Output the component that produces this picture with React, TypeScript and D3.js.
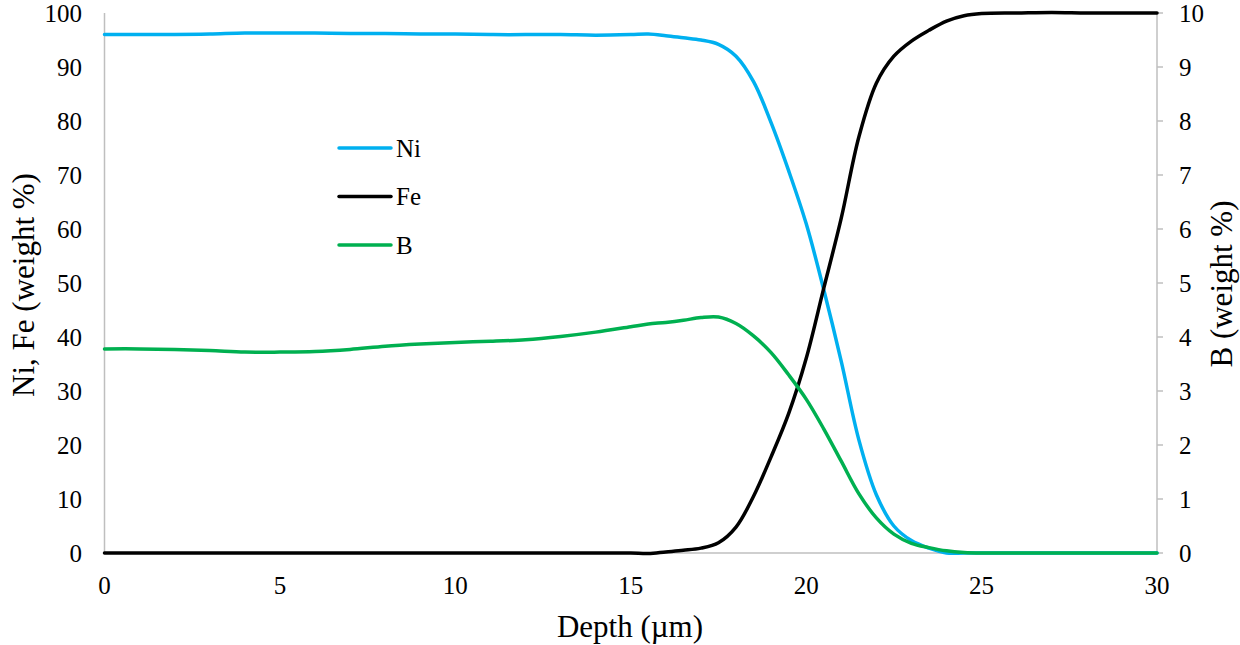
import React from "react";
import * as d3 from "d3";

const depth = [0, 1, 2, 3, 4, 5, 6, 7, 8, 9, 10, 11, 12, 13, 14, 15, 15.5, 16, 16.5, 17, 17.5, 18, 18.5, 19, 19.5, 20, 20.5, 21, 21.5, 22, 22.5, 23, 23.5, 24, 24.5, 25, 26, 27, 28, 29, 30];
const ni = [96.0, 96.0, 96.0, 96.1, 96.3, 96.3, 96.3, 96.2, 96.2, 96.1, 96.1, 96.0, 96.0, 96.0, 95.9, 96.0, 96.1, 95.8, 95.4, 95.0, 94.2, 92.0, 87.3, 79.7, 70.8, 61.0, 48.8, 35.5, 21.0, 10.8, 5.0, 2.3, 0.9, 0, 0, 0, 0, 0, 0, 0, 0];
const fe = [0, 0, 0, 0, 0, 0, 0, 0, 0, 0, 0, 0, 0, 0, 0, 0, -0.1, 0.2, 0.5, 0.9, 1.9, 4.8, 10.5, 17.8, 25.8, 36.0, 49.0, 62.0, 77.0, 87.0, 92.0, 94.8, 96.8, 98.5, 99.5, 99.9, 100, 100.1, 100, 100, 100];
const boron = [3.78, 3.78, 3.77, 3.75, 3.72, 3.72, 3.73, 3.77, 3.83, 3.87, 3.9, 3.92, 3.95, 4.01, 4.09, 4.19, 4.24, 4.27, 4.31, 4.36, 4.37, 4.25, 4.02, 3.71, 3.3, 2.85, 2.3, 1.7, 1.1, 0.65, 0.35, 0.18, 0.1, 0.04, 0.01, 0, 0, 0, 0, 0, 0];

const xTicks = [0, 5, 10, 15, 20, 25, 30];
const leftTicks = [0, 10, 20, 30, 40, 50, 60, 70, 80, 90, 100];
const rightTicks = [0, 1, 2, 3, 4, 5, 6, 7, 8, 9, 10];

const seriesNames = ["Ni", "Fe", "B"];
const seriesColors = ["#00B0F0", "#000000", "#00B050"];

export default function App() {
  const left = 104.5, right = 1157, top = 13, bottom = 553;
  const x = d3.scaleLinear().domain([0, 30]).range([left, right]);
  const yL = d3.scaleLinear().domain([0, 100]).range([bottom, top]);
  const yR = d3.scaleLinear().domain([0, 10]).range([bottom, top]);
  const font = "'Liberation Serif', 'Times New Roman', serif";
  const axisColor = "#BFBFBF";

  const curve = d3.curveCatmullRom.alpha(0.5);
  const lineL = d3.line<number>().x((_, i) => x(depth[i])).y((d) => yL(d)).curve(curve);
  const lineR = d3.line<number>().x((_, i) => x(depth[i])).y((d) => yR(d)).curve(curve);

  const paths = [lineL(ni), lineL(fe), lineR(boron)];

  return (
    <svg width={1240} height={645} style={{ position: "absolute", left: 0, top: 0, background: "#fff", fontFamily: font }}>
      {/* axes */}
      <line x1={left} x2={left} y1={top} y2={bottom} stroke={axisColor} strokeWidth={1.5} />
      <line x1={right} x2={right} y1={top} y2={bottom} stroke={axisColor} strokeWidth={1.5} />
      <line x1={left} x2={right} y1={bottom} y2={bottom} stroke={axisColor} strokeWidth={1.5} />
      {rightTicks.map((t) => (
        <line key={"rt" + t} x1={right} x2={right + 6} y1={yR(t)} y2={yR(t)} stroke={axisColor} strokeWidth={1.5} />
      ))}
      {leftTicks.map((t) => (
        <text key={"lt" + t} x={82} y={yL(t)} dy="0.35em" textAnchor="end" fontSize={25} fill="#000" style={{ fontFamily: font }}>{t}</text>
      ))}
      {rightTicks.map((t) => (
        <text key={"rl" + t} x={1179} y={yR(t)} dy="0.35em" textAnchor="start" fontSize={25} fill="#000" style={{ fontFamily: font }}>{t}</text>
      ))}
      {xTicks.map((t) => (
        <text key={"xt" + t} x={x(t)} y={585} dy="0.35em" textAnchor="middle" fontSize={25} fill="#000" style={{ fontFamily: font }}>{t}</text>
      ))}
      {/* titles */}
      <text x={630} y={637} textAnchor="middle" fontSize={31} fill="#000" style={{ fontFamily: font }}>Depth (µm)</text>
      <text transform={`translate(34, 285) rotate(-90)`} textAnchor="middle" fontSize={31} fill="#000" style={{ fontFamily: font }}>Ni, Fe (weight %)</text>
      <text transform={`translate(1232, 284) rotate(-90)`} textAnchor="middle" fontSize={31} fill="#000" style={{ fontFamily: font }}>B (weight %)</text>
      {/* series */}
      {paths.map((p, i) => (
        <path key={"s" + i} d={p || ""} fill="none" stroke={seriesColors[i]} strokeWidth={3.5} strokeLinejoin="round" strokeLinecap="round" />
      ))}
      {/* legend */}
      {seriesNames.map((n, i) => (
        <g key={"lg" + n} transform={`translate(0, ${148 + i * 48.5})`}>
          <line x1={339} x2={391} y1={0} y2={0} stroke={seriesColors[i]} strokeWidth={3.5} strokeLinecap="round" />
          <text x={396} y={0} dy="0.35em" fontSize={25} fill="#000" style={{ fontFamily: font }}>{n}</text>
        </g>
      ))}
    </svg>
  );
}
